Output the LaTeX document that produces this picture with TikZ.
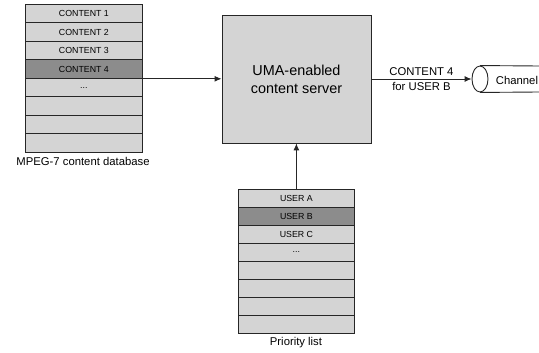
\documentclass[tikz,border=0pt]{standalone}
\usepackage{fontspec}
\setmainfont{Liberation Sans}
\usetikzlibrary{shapes.geometric,arrows.meta}
\definecolor{lightg}{RGB}{212,212,212}
\definecolor{darkg}{RGB}{140,140,140}
\def\mydts{...}
\begin{document}
\begin{tikzpicture}[x=1pt,y=-1pt,
  rowbox/.style={draw=black!85, line width=0.8pt, fill=lightg, minimum width=117pt, minimum height=18.5pt, inner sep=0pt, anchor=north west, font=\fontsize{8.8}{10}\selectfont},
  plbox/.style={rowbox, minimum width=116pt, minimum height=18pt},
  hl/.style={fill=darkg},
  caption/.style={font=\fontsize{11.3}{13}\selectfont},
  conn/.style={draw=black!85, line width=0.9pt, -{Latex[length=7pt,width=6pt]}}
]
\useasboundingbox (0,0) rectangle (539,353);
% database
\foreach \i/\t in {1/CONTENT 1,2/CONTENT 2,3/CONTENT 3,4/CONTENT 4,5/\mydts,6/,7/,8/}{
  \node[rowbox] (db\i) at (25,{4+(\i-1)*18.5}) {\t};
}
\node[rowbox,hl] at (db4.north west) {CONTENT 4};
\node[caption] (dbcap) at (83,161) {MPEG-7 content database};
% server
\node[draw=black!85, line width=0.9pt, fill=lightg, minimum width=149pt, minimum height=128pt, inner sep=0pt, align=center, font=\fontsize{14.4}{18}\selectfont] (server) at (296.5,79) {UMA-enabled\\content server};
% priority list
\foreach \i/\t in {1/USER A,2/USER B,3/USER C,4/\mydts,5/,6/,7/,8/}{
  \node[plbox] (pl\i) at (238,{189+(\i-1)*18}) {\t};
}
\node[plbox,hl] at (pl2.north west) {USER B};
\node[caption] (plcap) at (296,343) {Priority list};
% channel
\node[draw=black!85, line width=0.9pt, fill=white, ellipse, minimum width=16pt, minimum height=26pt, inner sep=0pt] (chan) at (480,79) {};
\coordinate (ctop) at (539,66);
\coordinate (cbot) at (539,92);
\draw[draw=black!85, line width=0.9pt] (chan.north) -- (ctop);
\draw[draw=black!85, line width=0.9pt] (chan.south) -- (cbot);
\node[caption] (chantext) at (517,80) {Channel};
% connectors
\draw[conn] (db4.south east) -- (db4.south east -| server.west);
\draw[conn] (server.east) -- (chan.west) node[midway, caption, align=center, font=\fontsize{11.3}{15}\selectfont] {CONTENT 4\\for USER B};
\draw[conn] (pl1.north) -- (pl1.north |- server.south);
\end{tikzpicture}
\end{document}
